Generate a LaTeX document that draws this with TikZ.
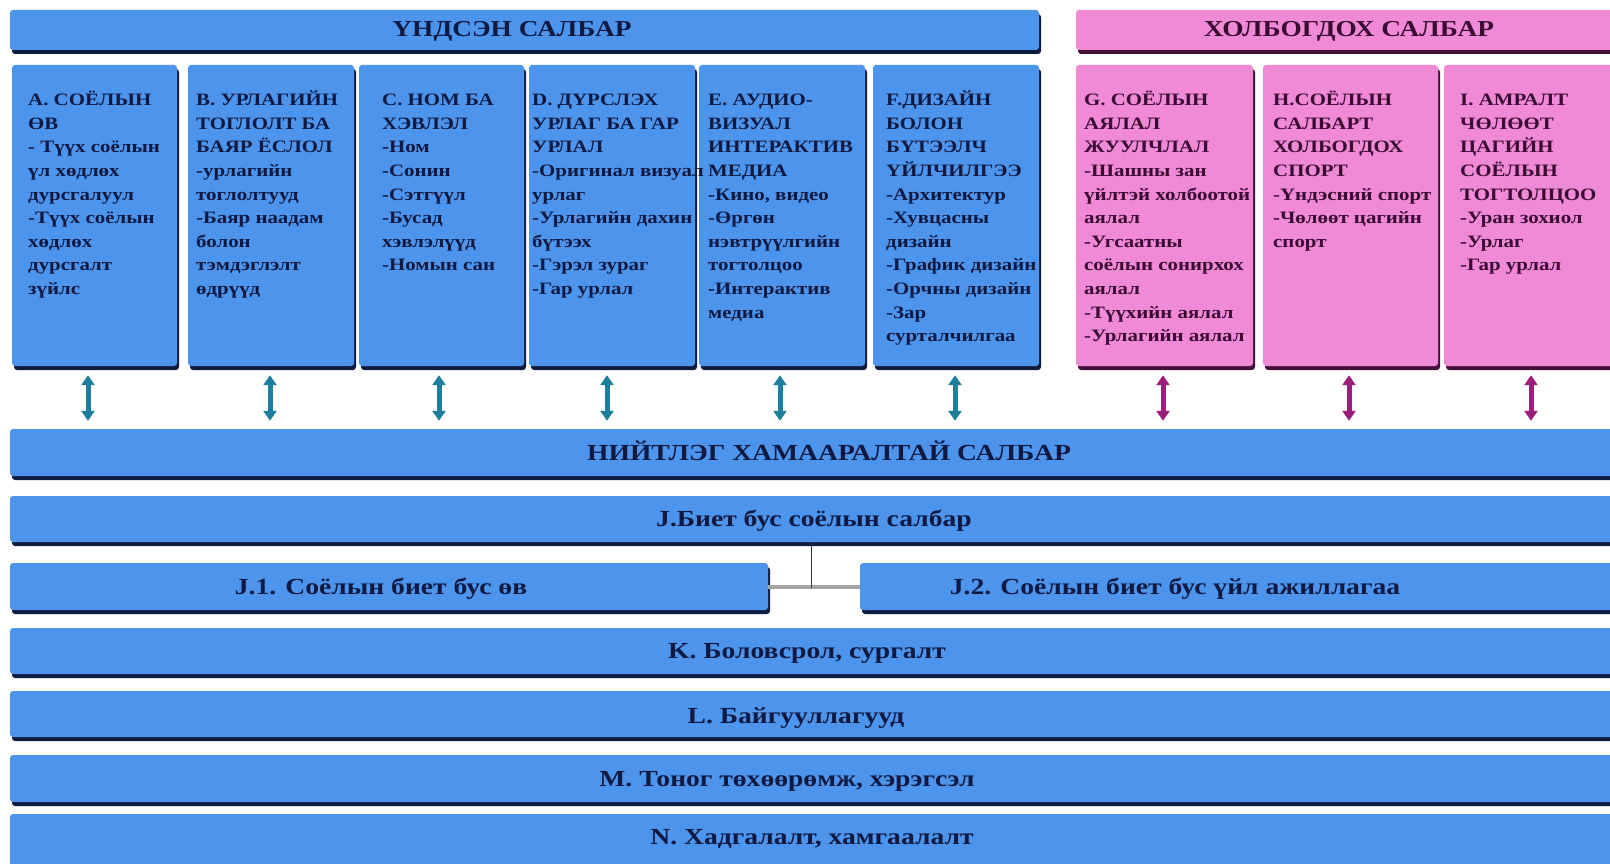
\documentclass[tikz,border=0pt]{standalone}
\usepackage{fontspec}
\setmainfont{Liberation Serif}[FakeStretch=1.2]
\usetikzlibrary{shadows,arrows.meta}
\definecolor{bl}{RGB}{77,148,236}
\definecolor{bsh}{RGB}{14,28,64}
\definecolor{pk}{RGB}{240,138,214}
\definecolor{psh}{RGB}{70,16,60}
\definecolor{btx}{RGB}{15,25,65}
\definecolor{ptx}{RGB}{58,10,50}
\definecolor{arB}{RGB}{30,126,158}
\definecolor{arP}{RGB}{155,30,125}
\begin{document}
\begin{tikzpicture}[x=1pt,y=-1pt,
  bbox/.style={fill=bl, rounded corners=3pt, inner sep=0pt,
    drop shadow={shadow xshift=2pt, shadow yshift=-4pt, fill=bsh, opacity=1}},
  pbox/.style={fill=pk, rounded corners=3pt, inner sep=0pt,
    drop shadow={shadow xshift=2pt, shadow yshift=-4pt, fill=psh, opacity=1}},
  btxt/.style={anchor=north west, align=left, inner sep=0pt, text=btx,
    font=\bfseries\fontsize{17.4}{23.6}\selectfont},
  ptxt/.style={btxt, text=ptx},
  hdr/.style={anchor=base, inner sep=0pt, font=\bfseries\fontsize{22.8}{26}\selectfont},
  bartxt/.style={anchor=base, inner sep=0pt, text=btx, font=\bfseries\fontsize{23}{27}\selectfont},
  arrowB/.style={{Triangle[length=10pt,width=13pt]}-{Triangle[length=10pt,width=13pt]}, line width=5pt, draw=arB, shorten <=9pt, shorten >=8pt},
  arrowP/.style={arrowB, draw=arP}
]
\useasboundingbox (0,0) rectangle (1610,864);
\clip (0,0) rectangle (1610,864);
\fill[white] (0,0) rectangle (1610,864);

% headers
\node[bbox, minimum width=1029pt, minimum height=40pt] (hu) at (524.5,30) {};
\node[pbox, minimum width=549pt, minimum height=40pt] (hp) at (1350.5,30) {};
\node[hdr, text=btx] (hut) at (512,37) {ҮНДСЭН САЛБАР};
\node[hdr, text=ptx] (hpt) at (1349,37) {ХОЛБОГДОХ САЛБАР};

% top boxes
\node[bbox, minimum width=165pt, minimum height=301pt] (A) at (94.5,215.5) {};
\node[bbox, minimum width=166pt, minimum height=301pt] (B) at (271,215.5) {};
\node[bbox, minimum width=165pt, minimum height=301pt] (C) at (441.5,215.5) {};
\node[bbox, minimum width=166pt, minimum height=301pt] (D) at (612,215.5) {};
\node[bbox, minimum width=166pt, minimum height=301pt] (E) at (782,215.5) {};
\node[bbox, minimum width=166pt, minimum height=301pt] (F) at (956,215.5) {};
\node[pbox, minimum width=177pt, minimum height=301pt] (G) at (1164.5,215.5) {};
\node[pbox, minimum width=175pt, minimum height=301pt] (H) at (1350.5,215.5) {};
\node[pbox, minimum width=181pt, minimum height=301pt] (I) at (1534.5,215.5) {};

\node[btxt] (At) at (28,89) {\strut А. СОЁЛЫН\\ӨВ\\- Түүх соёлын\\үл хөдлөх\\дурсгалуул\\-Түүх соёлын\\хөдлөх\\дурсгалт\\зүйлс};
\node[btxt] (Bt) at (196,89) {\strut В. УРЛАГИЙН\\ТОГЛОЛТ БА\\БАЯР ЁСЛОЛ\\-урлагийн\\тоглолтууд\\-Баяр наадам\\болон\\тэмдэглэлт\\өдрүүд};
\node[btxt] (Ct) at (382,89) {\strut С. НОМ БА\\ХЭВЛЭЛ\\-Ном\\-Сонин\\-Сэтгүүл\\-Бусад\\хэвлэлүүд\\-Номын сан};
\node[btxt] (Dt) at (532,89) {\strut D. ДҮРСЛЭХ\\УРЛАГ БА ГАР\\УРЛАЛ\\-Оригинал визуал\\урлаг\\-Урлагийн дахин\\бүтээх\\-Гэрэл зураг\\-Гар урлал};
\node[btxt] (Et) at (708,89) {\strut Е. АУДИО-\\ВИЗУАЛ\\ИНТЕРАКТИВ\\МЕДИА\\-Кино, видео\\-Өргөн\\нэвтрүүлгийн\\тогтолцоо\\-Интерактив\\медиа};
\node[btxt] (Ft) at (886,89) {\strut F.ДИЗАЙН\\БОЛОН\\БҮТЭЭЛЧ\\ҮЙЛЧИЛГЭЭ\\-Архитектур\\-Хувцасны\\дизайн\\-График дизайн\\-Орчны дизайн\\-Зар\\сурталчилгаа};
\node[ptxt] (Gt) at (1084,89) {\strut G. СОЁЛЫН\\АЯЛАЛ\\ЖУУЛЧЛАЛ\\-Шашны зан\\үйлтэй холбоотой\\аялал\\-Угсаатны\\соёлын сонирхох\\аялал\\-Түүхийн аялал\\-Урлагийн аялал};
\node[ptxt] (Ht) at (1273,89) {\strut Н.СОЁЛЫН\\САЛБАРТ\\ХОЛБОГДОХ\\СПОРТ\\-Үндэсний спорт\\-Чөлөөт цагийн\\спорт};
\node[ptxt] (It) at (1460,89) {\strut I. АМРАЛТ\\ЧӨЛӨӨТ\\ЦАГИЙН\\СОЁЛЫН\\ТОГТОЛЦОО\\-Уран зохиол\\-Урлаг\\-Гар урлал};

% bars
\node[bbox, minimum width=1630pt, minimum height=47pt] (nt) at (825,452.5) {};
\node[bbox, minimum width=1630pt, minimum height=46pt] (J) at (825,519) {};
\node[bbox, minimum width=758pt, minimum height=47pt] (J1) at (389,586.5) {};
\node[bbox, minimum width=780pt, minimum height=47pt] (J2) at (1250,586.5) {};
\node[bbox, minimum width=1630pt, minimum height=46pt] (K) at (825,651) {};
\node[bbox, minimum width=1630pt, minimum height=46pt] (L) at (825,714) {};
\node[bbox, minimum width=1630pt, minimum height=47pt] (M) at (825,778.5) {};
\node[bbox, minimum width=1630pt, minimum height=60pt] (N) at (825,844) {};

\node[bartxt] (ntt) at (829,460) {НИЙТЛЭГ ХАМААРАЛТАЙ САЛБАР};
\node[bartxt] (Jt) at (814,526.5) {J.Биет бус соёлын салбар};
\node[bartxt] (J1t) at (381,594) {J.1. Соёлын биет бус өв};
\node[bartxt] (J2t) at (1175,594) {J.2. Соёлын биет бус үйл ажиллагаа};
\node[bartxt] (Kt) at (807,658) {K. Боловсрол, сургалт};
\node[bartxt] (Lt) at (796,723) {L. Байгууллагууд};
\node[bartxt] (Mt) at (787,786) {M. Тоног төхөөрөмж, хэрэгсэл};
\node[bartxt] (Nt) at (812,844) {N. Хадгалалт, хамгаалалт};

% J connector
\coordinate (jc) at (811,588);
\draw[line width=4pt, draw=gray!70] (J1.east) -- (J2.west);
\draw[line width=1pt, draw=black!80] (J.south -| jc) -- (jc);

% arrows
\draw[arrowB] ([xshift=-6.5pt]A.south) -- ([xshift=-6.5pt]A.south |- nt.north);
\draw[arrowB] ([xshift=-1pt]B.south) -- ([xshift=-1pt]B.south |- nt.north);
\draw[arrowB] ([xshift=-2.5pt]C.south) -- ([xshift=-2.5pt]C.south |- nt.north);
\draw[arrowB] ([xshift=-5pt]D.south) -- ([xshift=-5pt]D.south |- nt.north);
\draw[arrowB] ([xshift=-2pt]E.south) -- ([xshift=-2pt]E.south |- nt.north);
\draw[arrowB] ([xshift=-1pt]F.south) -- ([xshift=-1pt]F.south |- nt.north);
\draw[arrowP] ([xshift=-1.5pt]G.south) -- ([xshift=-1.5pt]G.south |- nt.north);
\draw[arrowP] ([xshift=-1.5pt]H.south) -- ([xshift=-1.5pt]H.south |- nt.north);
\draw[arrowP] ([xshift=-3.5pt]I.south) -- ([xshift=-3.5pt]I.south |- nt.north);
\end{tikzpicture}
\end{document}
